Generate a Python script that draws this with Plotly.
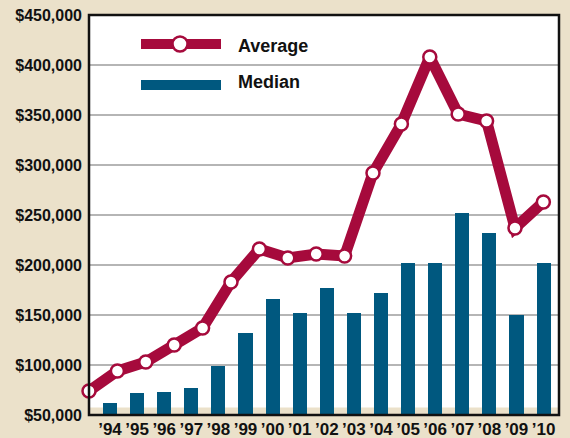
import plotly.graph_objects as go

years = ["’94", "’95", "’96", "’97", "’98", "’99", "’00", "’01", "’02", "’03",
         "’04", "’05", "’06", "’07", "’08", "’09", "’10"]
average = [74000, 94000, 103000, 120000, 137000, 183000, 216000, 207000, 211000, 209000,
           292000, 341000, 408000, 351000, 344000, 237000, 263000]
median = [62000, 72000, 73000, 77000, 99000, 132000, 166000, 152000, 177000, 152000,
          172000, 202000, 202000, 252000, 232000, 150000, 202000]
y_ticks = [50000, 100000, 150000, 200000, 250000, 300000, 350000, 400000, 450000]
y_labels = ["$50,000", "$100,000", "$150,000", "$200,000", "$250,000", "$300,000",
            "$350,000", "$400,000", "$450,000"]

RED = "#a60a3c"
BLUE = "#00587f"
BG = "#ebe1ca"
FONT = "Liberation Sans, Arial, sans-serif"

fig = go.Figure()

fig.add_trace(go.Bar(
    x=list(range(len(years))), y=median, name="Median",
    marker=dict(color=BLUE, line=dict(width=0)), width=0.52,
    base=0, showlegend=False, xaxis="x", yaxis="y",
))

fig.add_trace(go.Scatter(
    x=list(range(len(years))), y=average, name="Average", mode="lines+markers",
    line=dict(color=RED, width=11),
    marker=dict(size=13, color="white", line=dict(color=RED, width=2.5)),
    cliponaxis=False, showlegend=False, xaxis="x2", yaxis="y",
))

n = len(years)
fig.update_layout(
    width=570, height=438,
    margin=dict(l=89, r=11, t=15, b=23, autoexpand=False),
    paper_bgcolor=BG, plot_bgcolor="white",
    bargap=0,
    xaxis=dict(
        range=[-0.775, 16.57], tickmode="array",
        tickvals=list(range(n)), ticktext=years,
        showgrid=False, zeroline=False, showline=False, ticks="",
        tickfont=dict(family=FONT, size=17, color="#111", weight="bold"),
        ticklabelstandoff=2, automargin=False,
    ),
    xaxis2=dict(
        range=[0, 16.55], overlaying="x", visible=False,
    ),
    yaxis=dict(
        range=[50000, 450000], tickmode="array", tickvals=y_ticks, ticktext=y_labels,
        showgrid=True, gridcolor="#b5b5b5", gridwidth=1.5,
        zeroline=False, showline=False, ticks="",
        tickfont=dict(family=FONT, size=16, color="#111", weight="bold"),
        ticklabelstandoff=6, automargin=False,
    ),
    shapes=[
        dict(type="rect", xref="paper", yref="y", x0=0, x1=1, y0=50000, y1=57500,
             fillcolor=BG, line=dict(width=0), layer="below"),
        dict(type="rect", xref="paper", yref="paper", x0=0, x1=1, y0=0, y1=1,
             line=dict(color="#111", width=2.5), layer="above"),
        dict(type="line", xref="paper", yref="paper",
             x0=(141 - 89) / 470, x1=(221 - 89) / 470,
             y0=(415 - 44) / 400, y1=(415 - 44) / 400,
             line=dict(color=RED, width=10)),
        dict(type="circle", xref="paper", yref="paper",
             xsizemode="pixel", ysizemode="pixel",
             xanchor=(180 - 89) / 470, yanchor=(415 - 44) / 400,
             x0=-7.5, x1=7.5, y0=-7.5, y1=7.5,
             fillcolor="white", line=dict(color=RED, width=2.5)),
        dict(type="rect", xref="paper", yref="paper",
             x0=(141 - 89) / 470, x1=(221 - 89) / 470,
             y0=(415 - 90) / 400, y1=(415 - 80) / 400,
             fillcolor=BLUE, line=dict(width=0)),
    ],
    annotations=[
        dict(text="Average", xref="paper", yref="paper",
             x=(236 - 89) / 470, y=(415 - 46) / 400, xanchor="left", yanchor="middle",
             showarrow=False, font=dict(family=FONT, size=18, color="#111", weight="bold")),
        dict(text="Median", xref="paper", yref="paper",
             x=(236 - 89) / 470, y=(415 - 82) / 400, xanchor="left", yanchor="middle",
             showarrow=False, font=dict(family=FONT, size=18, color="#111", weight="bold")),
    ],
)

fig.write_html("out.html", config={"displayModeBar": False},
               post_script="document.body.style.margin='0';document.body.style.padding='0';")
